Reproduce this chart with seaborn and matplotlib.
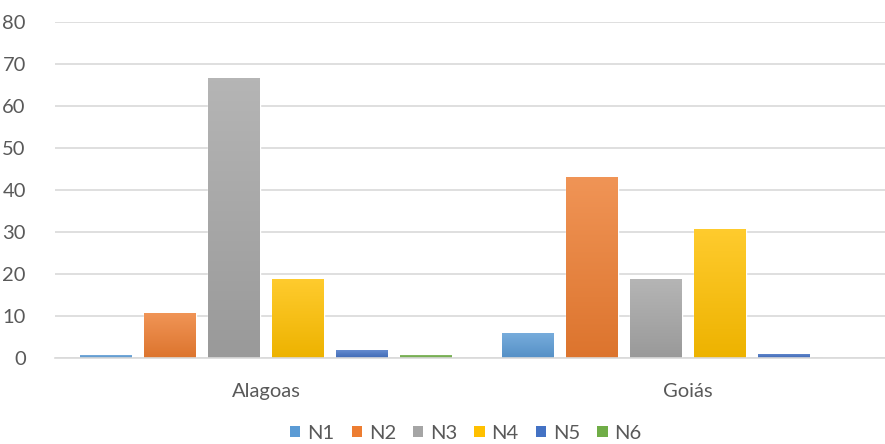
import numpy as np
import pandas as pd
import matplotlib
matplotlib.use("Agg")
import matplotlib.pyplot as plt
import seaborn as sns
from matplotlib.colors import to_rgb
from matplotlib.patches import Patch

states = ["Alagoas", "Goiás"]
levels = ["N1", "N2", "N3", "N4", "N5", "N6"]
alagoas = [0.7, 10.7, 66.7, 18.9, 1.9, 0.7]
goias = [6.0, 43.1, 18.9, 30.8, 1.0, 0.0]
palette = ["#5B9BD5", "#ED7D31", "#A5A5A5", "#FFC000", "#4472C4", "#70AD47"]
yticks = [0, 10, 20, 30, 40, 50, 60, 70, 80]

df = pd.DataFrame({
    "Estado": np.repeat(states, len(levels)),
    "Nível": levels * len(states),
    "Valor": alagoas + goias,
})

sns.set_theme(style="white")
plt.rcParams["font.family"] = ["Lato", "DejaVu Sans"]
text_color = "#595959"
fs = 14.5

fig = plt.figure(figsize=(8.85, 4.44), dpi=100)
ax = fig.add_axes([55 / 885, 86 / 444, 844 / 885, 336 / 444])

sns.barplot(data=df, x="Estado", y="Valor", hue="Nível", hue_order=levels,
            palette=palette, saturation=1, width=0.91, gap=0.2,
            errorbar=None, legend=False, ax=ax)

# vertical gradient on each bar: lighter at the top, base colour at the bottom
for patch in list(ax.patches):
    h = patch.get_height()
    if h <= 0:
        continue
    x, w = patch.get_x(), patch.get_width()
    base = np.array(to_rgb(patch.get_facecolor()))
    top = base + (1 - base) * 0.18
    bottom = base * 0.93
    t = np.linspace(0, 1, 64)[:, None, None]
    grad = top[None, None, :] * (1 - t) + bottom[None, None, :] * t
    im = ax.imshow(grad, extent=[x, x + w, 0, h], origin="upper",
                   aspect="auto", interpolation="bilinear",
                   zorder=patch.get_zorder() + 0.1)
    im.set_clip_path(patch)

ax.set_xlim(-0.5, 1.5)
ax.set_ylim(0, 80)
ax.set_yticks(yticks)
ax.yaxis.grid(True, color="#D9D9D9", lw=1.2)
ax.set_axisbelow(True)
for side in ["top", "right", "left"]:
    ax.spines[side].set_visible(False)
ax.spines["bottom"].set_color("#D9D9D9")
ax.spines["bottom"].set_linewidth(1.2)
ax.tick_params(axis="y", length=0, pad=21, labelsize=fs, labelcolor=text_color)
ax.tick_params(axis="x", length=0, pad=18, labelsize=fs, labelcolor=text_color)
ax.set_xlabel("")
ax.set_ylabel("")

handles = [Patch(facecolor=c, edgecolor="none") for c in palette]
fig.legend(handles, levels, loc="center", ncol=6, frameon=False,
           bbox_to_anchor=(466 / 885, 11 / 444), bbox_transform=fig.transFigure,
           fontsize=fs, labelcolor=text_color, handlelength=0.5,
           handleheight=0.5, handletextpad=0.35, columnspacing=0.85)

fig.savefig("out.png", dpi=100)
